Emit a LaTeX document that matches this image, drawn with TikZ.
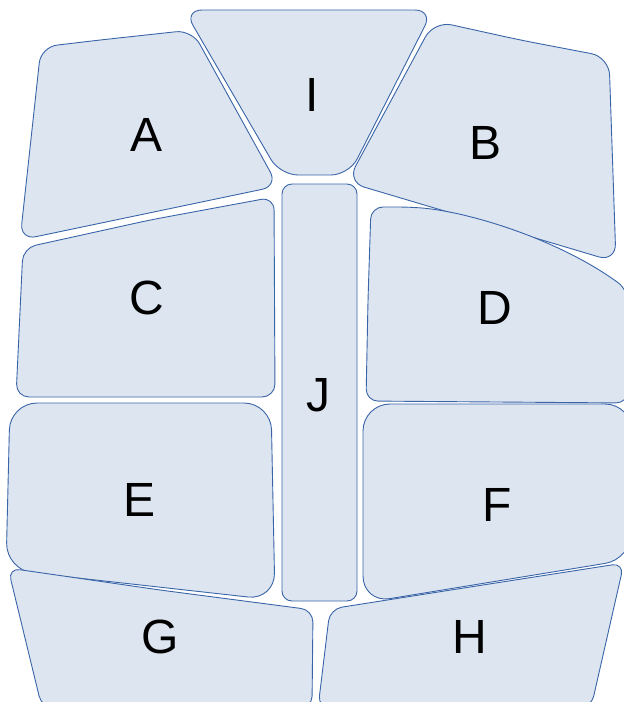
\documentclass[tikz,border=0pt]{standalone}
\usepackage{fontspec}
\setmainfont{Liberation Sans}
\definecolor{platefill}{HTML}{DDE6F0}
\definecolor{seam}{HTML}{3A64A8}

\begin{document}
\begin{tikzpicture}[
  x=1pt, y=-1pt,
  plate/.style={draw=seam, fill=platefill, line width=0.9pt, line join=round},
  tag/.style={font=\fontsize{48}{56}\selectfont}
]
  \useasboundingbox (0,0) rectangle (624,702);
  \clip (0,0) rectangle (624,702);

  % top row
  \draw[plate, rounded corners=18pt] (300,10) -- (433,10) -- (349,175) -- (280,175) -- (184,10) -- cycle;
  \draw[plate, rounded corners=16pt] (100,40) -- (192,30) -- (278,186) -- (20,240) -- (41,47) -- cycle;
  \draw[plate, rounded corners=18pt] (520,40) -- (609,57) -- (616,262) -- (347,182) -- (434,21) -- cycle;

  % middle column
  \draw[plate, rounded corners=10pt] (282,184) rectangle (357,601);

  % left side
  \draw[plate, rounded corners=13pt] (150,220) -- (274,197) -- (275,397) -- (16,397) -- (23,248) -- cycle;
  \draw[plate, rounded corners=27pt] (150,403) -- (271,403) -- (275,600) -- (6,570) -- (10,403) -- cycle;
  \draw[plate, rounded corners=12pt] (160,590) -- (313,610) -- (312,708) -- (42,708) -- (8,568) -- cycle;

  % right side
  \draw[plate, rounded corners=12pt] (368,300) -- (371,207) -- (410,207)
    .. controls (470,212) and (560,240) .. (628,290) -- (628,403) -- (366,401) -- cycle;
  \draw[plate, rounded corners=27pt] (500,404) -- (632,404) -- (632,559) -- (363,603) -- (363,404) -- cycle;
  \draw[plate, rounded corners=12pt] (470,587) -- (624,563) -- (591,708) -- (318,708) -- (330,609) -- cycle;

  % labels
  \node[tag] (I) at (312,95) {I};
  \node[tag] (A) at (147,135) {A};
  \node[tag] (B) at (486,143) {B};
  \node[tag] (C) at (147,298) {C};
  \node[tag] (D) at (495,308) {D};
  \node[tag] (J) at (318,395) {J};
  \node[tag] (E) at (140,500) {E};
  \node[tag] (F) at (497,505) {F};
  \node[tag] (G) at (160,637) {G};
  \node[tag] (H) at (470,637) {H};
\end{tikzpicture}
\end{document}
